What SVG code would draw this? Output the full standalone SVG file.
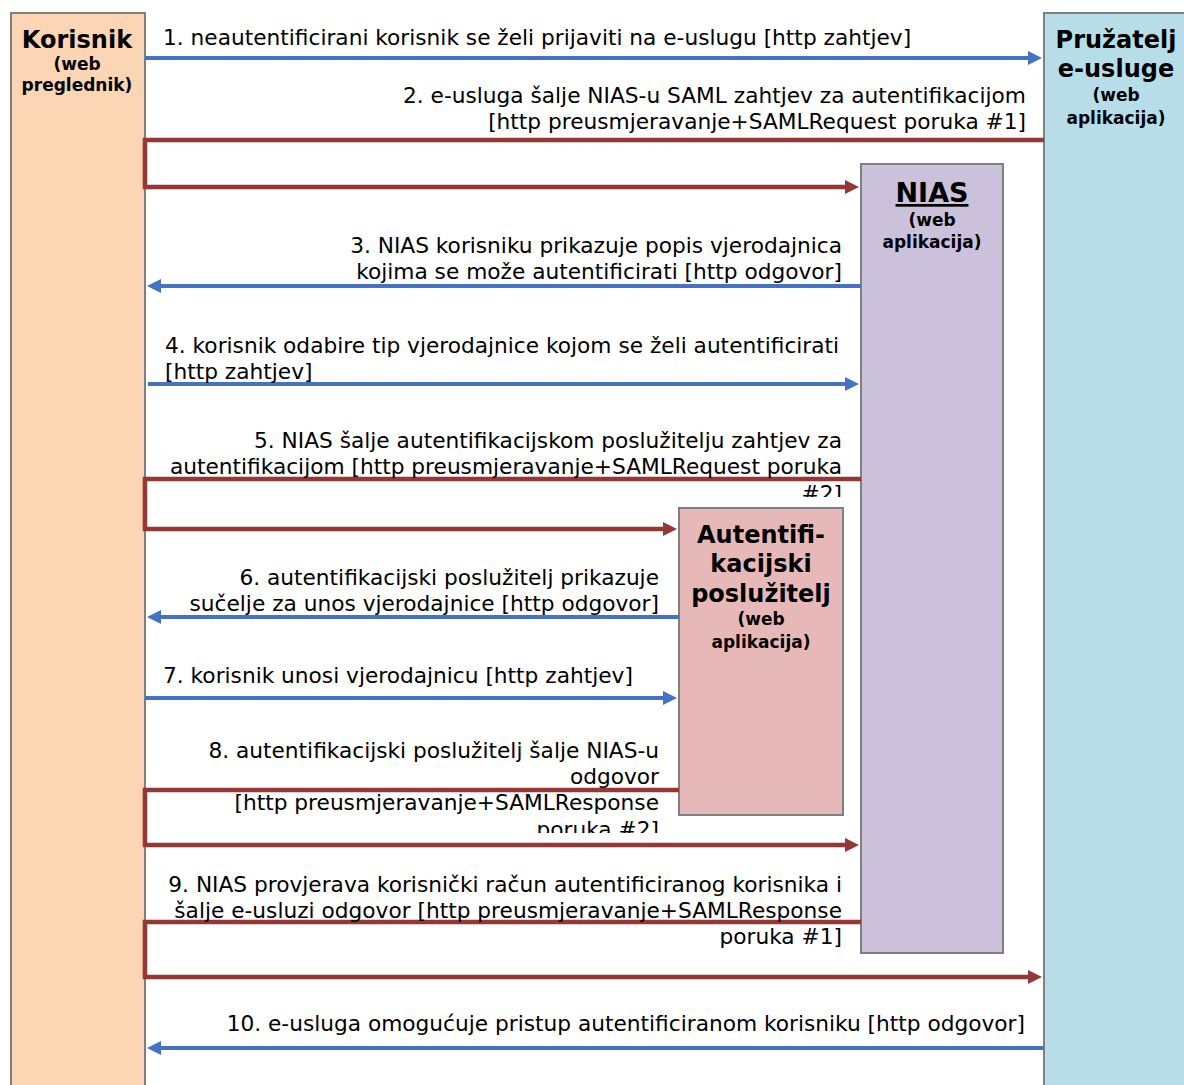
<svg xmlns="http://www.w3.org/2000/svg" width="1184" height="1085" viewBox="0 0 1184 1085">
<style>
.box{stroke:#7f7f7f;stroke-width:2}
.t{font-family:"DejaVu Sans",Verdana,sans-serif;font-size:21.7px;fill:#000}
.e{text-anchor:end}
.h{font-family:"DejaVu Sans",Verdana,sans-serif;font-weight:bold;text-anchor:middle;fill:#000}
.big{font-size:24px}
.sm{font-size:17px}
.blue{fill:none;stroke:#4472c4;stroke-width:4}
.red{fill:none;stroke:#953735;stroke-width:4.5}
</style>
<defs>
<marker id="ab" markerUnits="userSpaceOnUse" viewBox="0 0 14 14" markerWidth="14" markerHeight="14" refX="2" refY="7" orient="auto"><path d="M0,0 L14,7 L0,14 z" fill="#4472c4"/></marker>
<marker id="ar" markerUnits="userSpaceOnUse" viewBox="0 0 14 14" markerWidth="14" markerHeight="14" refX="2" refY="7" orient="auto"><path d="M0,0 L14,7 L0,14 z" fill="#953735"/></marker>
<clipPath id="c5"><rect x="0" y="0" width="1184" height="497"/></clipPath>
<clipPath id="c8"><rect x="0" y="0" width="1184" height="833"/></clipPath>
</defs>
<rect width="1184" height="1085" fill="#fff"/>
<g id="korisnik">
<rect class="box" x="11" y="13" width="134" height="1090" fill="#fcd5b4"/>
<text class="h big" x="77" y="48">Korisnik</text>
<text class="h sm" x="77" y="70">(web</text>
<text class="h sm" x="77" y="91">preglednik)</text>
</g>
<g id="pruzatelj">
<rect class="box" x="1044" y="13" width="150" height="1090" fill="#b7dee8"/>
<text class="h big" x="1116" y="48">Pružatelj</text>
<text class="h big" x="1116" y="77">e-usluge</text>
<text class="h sm" x="1116" y="101">(web</text>
<text class="h sm" x="1116" y="124">aplikacija)</text>
</g>
<g id="nias">
<rect class="box" x="861" y="164" width="142" height="789" fill="#ccc1da"/>
<text class="h" x="932" y="202" font-size="27" text-decoration="underline">NIAS</text>
<text class="h sm" x="932" y="226">(web</text>
<text class="h sm" x="932" y="248">aplikacija)</text>
</g>
<g id="autentifikacijski">
<rect class="box" x="679" y="508" width="164" height="307" fill="#e6b9b8"/>
<text class="h big" x="761" y="543">Autentifi-</text>
<text class="h big" x="761" y="572">kacijski</text>
<text class="h big" x="761" y="602">poslužitelj</text>
<text class="h sm" x="761" y="625">(web</text>
<text class="h sm" x="761" y="648">aplikacija)</text>
</g>
<g id="connectors">
<line class="blue" x1="145" y1="58" x2="1030" y2="58" marker-end="url(#ab)"/>
<path class="red" d="M1044,140 H145 V187 H847" marker-end="url(#ar)"/>
<line class="blue" x1="861" y1="286" x2="159" y2="286" marker-end="url(#ab)"/>
<line class="blue" x1="148" y1="384" x2="847" y2="384" marker-end="url(#ab)"/>
<path class="red" d="M861,479 H145 V529 H665" marker-end="url(#ar)"/>
<line class="blue" x1="679" y1="617" x2="159" y2="617" marker-end="url(#ab)"/>
<line class="blue" x1="145" y1="698" x2="665" y2="698" marker-end="url(#ab)"/>
<path class="red" d="M679,790 H145 V845 H847" marker-end="url(#ar)"/>
<path class="red" d="M861,922 H145 V977 H1030" marker-end="url(#ar)"/>
<line class="blue" x1="1044" y1="1048" x2="159" y2="1048" marker-end="url(#ab)"/>
</g>
<g id="labels">
<text class="t" x="163" y="45">1. neautentificirani korisnik se želi prijaviti na e-uslugu [http zahtjev]</text>
<text class="t e" x="1026" y="103">2. e-usluga šalje NIAS-u SAML zahtjev za autentifikacijom</text>
<text class="t e" x="1026" y="129">[http preusmjeravanje+SAMLRequest poruka #1]</text>
<text class="t e" x="842" y="253">3. NIAS korisniku prikazuje popis vjerodajnica</text>
<text class="t e" x="842" y="279">kojima se može autentificirati [http odgovor]</text>
<text class="t" x="165" y="353">4. korisnik odabire tip vjerodajnice kojom se želi autentificirati</text>
<text class="t" x="165" y="379">[http zahtjev]</text>
<g clip-path="url(#c5)">
<text class="t e" x="842" y="448">5. NIAS šalje autentifikacijskom poslužitelju zahtjev za</text>
<text class="t e" x="842" y="474">autentifikacijom [http preusmjeravanje+SAMLRequest poruka</text>
<text class="t e" x="842" y="501">#2]</text>
</g>
<text class="t e" x="659" y="585">6. autentifikacijski poslužitelj prikazuje</text>
<text class="t e" x="659" y="611">sučelje za unos vjerodajnice [http odgovor]</text>
<text class="t" x="163" y="683">7. korisnik unosi vjerodajnicu [http zahtjev]</text>
<g clip-path="url(#c8)">
<text class="t e" x="659" y="758">8. autentifikacijski poslužitelj šalje NIAS-u</text>
<text class="t e" x="659" y="784">odgovor</text>
<text class="t e" x="659" y="810">[http preusmjeravanje+SAMLResponse</text>
<text class="t e" x="659" y="837">poruka #2]</text>
</g>
<text class="t e" x="842" y="892">9. NIAS provjerava korisnički račun autentificiranog korisnika i</text>
<text class="t e" x="842" y="918">šalje e-usluzi odgovor [http preusmjeravanje+SAMLResponse</text>
<text class="t e" x="842" y="944">poruka #1]</text>
<text class="t e" x="1025" y="1031">10. e-usluga omogućuje pristup autentificiranom korisniku [http odgovor]</text>
</g>
</svg>
